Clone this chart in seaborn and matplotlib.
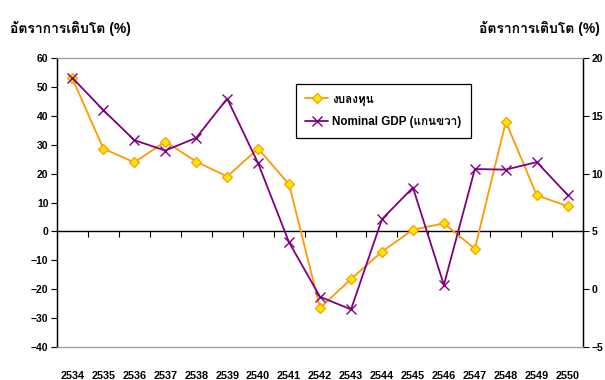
import matplotlib
matplotlib.use("Agg")
import matplotlib.pyplot as plt
import seaborn as sns
import pandas as pd
import numpy as np

years = ["2534", "2535", "2536", "2537", "2538", "2539", "2540", "2541", "2542",
         "2543", "2544", "2545", "2546", "2547", "2548", "2549", "2550"]
investment = [53.0, 28.7, 23.9, 31.1, 24.2, 19.0, 28.7, 16.3, -26.5,
              -16.5, -7.0, 0.6, 2.8, -6.0, 38.0, 12.5, 8.7]
nominal_gdp = [18.3, 15.5, 12.9, 12.0, 13.1, 16.5, 10.9, 4.05, -0.66,
               -1.75, 6.06, 8.8, 0.37, 10.4, 10.35, 11.0, 8.15]
left_ticks = [-40, -30, -20, -10, 0, 10, 20, 30, 40, 50, 60]
right_ticks = [-5, 0, 5, 10, 15, 20]
label_inv = "งบลงทุน"
label_gdp = "Nominal GDP (แกนขวา)"
axis_title = "อัตราการเติบโต (%)"

sns.set_theme(style="white", rc={"text.color": "black", "xtick.color": "black",
                                 "ytick.color": "black", "axes.labelcolor": "black"})
fam = ["Liberation Sans", "Loma", "Noto Sans Thai Looped", "DejaVu Sans"]
plt.rcParams["font.family"] = fam
plt.rcParams["font.weight"] = "bold"

df = pd.DataFrame({"year": years, "inv": investment, "gdp": nominal_gdp})
df["pos"] = np.arange(len(years))

fig = plt.figure(figsize=(6.05, 3.8), dpi=100)
ax = fig.add_axes([0.094, 0.087, 0.870, 0.760])
ax2 = ax.twinx()

sns.lineplot(data=df, x="pos", y="inv", ax=ax, color="#FF9900", lw=1.3,
             marker="D", markersize=5, markerfacecolor="#FFE800",
             markeredgecolor="#FF9900", markeredgewidth=0.9, label=label_inv, legend=False)
sns.lineplot(data=df, x="pos", y="gdp", ax=ax2, color="#800080", lw=1.3,
             marker="x", markersize=7, markeredgewidth=1.0, markeredgecolor="#800080",
             label=label_gdp, legend=False)

n = len(years)
ax.set_xlim(-0.5, n - 0.5)
ax.set_ylim(left_ticks[0], left_ticks[-1])
ax2.set_ylim(right_ticks[0], right_ticks[-1])
ax.set_yticks(left_ticks)
ax2.set_yticks(right_ticks)
ax.set_xlabel("")
ax.set_ylabel("")
ax2.set_ylabel("")

# x tick labels along the bottom, no tick marks there
ax.set_xticks(df["pos"])
ax.set_xticklabels(years, fontsize=7.8, fontweight="bold", color="black")
ax.tick_params(axis="x", length=0, pad=17)

for a in (ax, ax2):
    for s in ("top", "bottom"):
        a.spines[s].set_color("#999999")
        a.spines[s].set_linewidth(0.8)
    for s in ("left", "right"):
        a.spines[s].set_color("black")
        a.spines[s].set_linewidth(0.9)

ax.tick_params(axis="y", direction="out", length=4, width=0.8, color="black",
               labelsize=7.5, labelcolor="black", pad=2, left=True)
ax2.tick_params(axis="y", direction="out", length=4, width=0.8, color="black",
                labelsize=7.5, labelcolor="black", pad=2, right=True)
for lab in ax.get_yticklabels() + ax2.get_yticklabels():
    lab.set_fontweight("bold")

# zero line with category-boundary tick marks
zero_frac = (0 - left_ticks[0]) / (left_ticks[-1] - left_ticks[0])
sec = ax.secondary_xaxis(zero_frac)
sec.set_xticks(np.arange(-0.5, n, 1.0))
sec.tick_params(axis="x", direction="out", length=4, width=0.8, color="black",
                labelbottom=False, labeltop=False, bottom=True, top=False)
sec.spines["bottom"].set_color("black")
sec.spines["bottom"].set_linewidth(1.0)
for s in ("top", "left", "right"):
    sec.spines[s].set_visible(False)

h1, l1 = ax.get_legend_handles_labels()
h2, l2 = ax2.get_legend_handles_labels()
leg = ax2.legend(h1 + h2, l1 + l2, loc="upper left", bbox_to_anchor=(0.454, 0.91),
                 frameon=True, fancybox=False, edgecolor="black", framealpha=1,
                 prop={"family": fam, "weight": "bold", "size": 8.4},
                 handlelength=2.0, handletextpad=0.3, borderpad=0.8, labelspacing=0.9,
                 borderaxespad=0)
leg.get_frame().set_linewidth(0.9)
for t in leg.get_texts():
    t.set_color("black")

fig.text(0.016, 0.925, axis_title, fontsize=10, fontweight="bold", ha="left", va="center",
         color="black")
fig.text(0.992, 0.925, axis_title, fontsize=10, fontweight="bold", ha="right", va="center",
         color="black")

fig.savefig("out.png", dpi=100)
